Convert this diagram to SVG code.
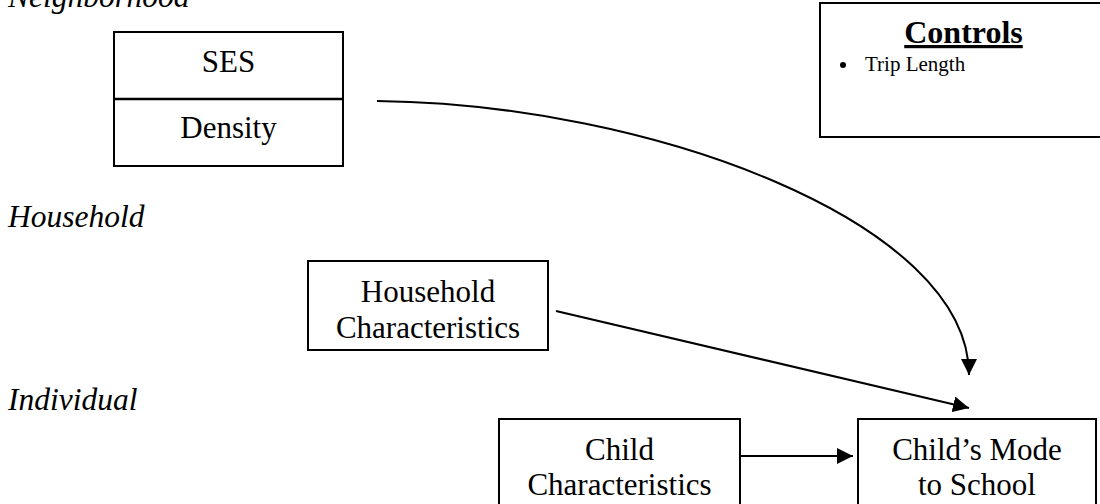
<svg xmlns="http://www.w3.org/2000/svg" width="1100" height="504" viewBox="0 0 1100 504">
<style>
  .box { fill: #fff; stroke: #000; stroke-width: 2; }
  .t { font-family: "Liberation Serif", "Times New Roman", serif; font-size: 31px; fill: #000; text-anchor: middle; }
  .lvl { font-family: "Liberation Serif", "Times New Roman", serif; font-size: 31.5px; font-style: italic; fill: #000; }
  .edge { fill: none; stroke: #000; stroke-width: 2; }
</style>
<defs>
  <marker id="arr" viewBox="0 0 16 16" refX="16" refY="8" markerWidth="16" markerHeight="16" markerUnits="userSpaceOnUse" orient="auto">
    <path d="M0,0 L16,8 L0,16 z" fill="#000"/>
  </marker>
</defs>
<rect width="1100" height="504" fill="#fff"/>

<g id="levels">
  <text class="lvl" x="8" y="7">Neighborhood</text>
  <text class="lvl" x="8" y="227">Household</text>
  <text class="lvl" x="8" y="410">Individual</text>
</g>

<g id="neighborhood">
  <rect class="box" x="114" y="32" width="229" height="134"/>
  <line x1="114" y1="99" x2="343" y2="99" stroke="#000" stroke-width="2.5"/>
  <text class="t" x="228.5" y="72">SES</text>
  <text class="t" x="228.5" y="138">Density</text>
</g>

<g id="controls">
  <rect class="box" x="820" y="3" width="286" height="134" stroke-width="2.5"/>
  <text x="963.5" y="43" font-family="Liberation Serif, Times New Roman, serif" font-size="32" font-weight="bold" text-anchor="middle" text-decoration="underline">Controls</text>
  <circle cx="843" cy="65" r="3"/>
  <text x="865" y="71" font-family="Liberation Serif, Times New Roman, serif" font-size="21">Trip Length</text>
</g>

<g id="household">
  <rect class="box" x="308" y="261" width="240" height="89"/>
  <text class="t" x="428" y="302">Household</text>
  <text class="t" x="428" y="338">Characteristics</text>
</g>

<g id="child">
  <rect class="box" x="499" y="419" width="241" height="100"/>
  <text class="t" x="619.5" y="460">Child</text>
  <text class="t" x="619.5" y="495">Characteristics</text>
</g>

<g id="mode">
  <rect class="box" x="858" y="419" width="238" height="100"/>
  <text class="t" x="977" y="460">Child’s Mode</text>
  <text class="t" x="977" y="495">to School</text>
</g>

<g id="connectors">
  <path class="edge" d="M377,101 C650,104 969,222 969,375" marker-end="url(#arr)"/>
  <line class="edge" x1="556" y1="311" x2="969" y2="408" marker-end="url(#arr)"/>
  <line class="edge" x1="740" y1="456" x2="853" y2="456" marker-end="url(#arr)"/>
</g>
</svg>
